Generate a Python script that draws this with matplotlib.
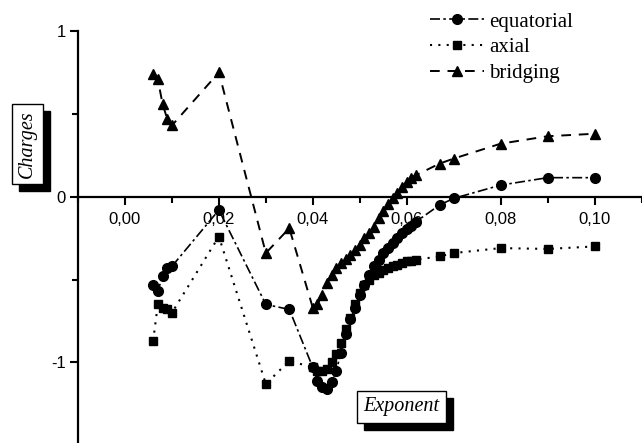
import matplotlib
matplotlib.use("Agg")
import matplotlib.pyplot as plt
from matplotlib.ticker import FixedLocator, FuncFormatter
from matplotlib.patches import Rectangle

# ---------------- data ----------------
eq_x = [0.006, 0.007, 0.008, 0.009, 0.010, 0.020, 0.030, 0.035,
        0.040, 0.041, 0.042, 0.043, 0.044, 0.045, 0.046, 0.047, 0.048, 0.049,
        0.050, 0.051, 0.052, 0.053, 0.054, 0.055, 0.056, 0.057, 0.058, 0.059,
        0.060, 0.061, 0.062, 0.067, 0.070, 0.080, 0.090, 0.100]
eq_y = [-0.53, -0.57, -0.48, -0.43, -0.42, -0.08, -0.65, -0.68,
        -1.03, -1.11, -1.15, -1.16, -1.12, -1.05, -0.94, -0.83, -0.74, -0.67,
        -0.59, -0.53, -0.47, -0.42, -0.38, -0.34, -0.31, -0.28, -0.25, -0.22,
        -0.195, -0.175, -0.15, -0.05, -0.01, 0.07, 0.115, 0.115]

ax_x = [0.006, 0.007, 0.008, 0.009, 0.010, 0.020, 0.030, 0.035,
        0.040, 0.041, 0.042, 0.043, 0.044, 0.045, 0.046, 0.047, 0.048, 0.049,
        0.050, 0.051, 0.052, 0.053, 0.054, 0.055, 0.056, 0.057, 0.058, 0.059,
        0.060, 0.061, 0.062, 0.067, 0.070, 0.080, 0.090, 0.100]
ax_y = [-0.87, -0.65, -0.67, -0.68, -0.70, -0.24, -1.13, -0.99,
        -1.03, -1.05, -1.05, -1.04, -1.00, -0.95, -0.88, -0.80, -0.73, -0.65,
        -0.58, -0.53, -0.50, -0.475, -0.46, -0.445, -0.43, -0.42, -0.41, -0.40,
        -0.39, -0.385, -0.38, -0.36, -0.34, -0.31, -0.315, -0.30]

br_x = [0.006, 0.007, 0.008, 0.009, 0.010, 0.020, 0.030, 0.035,
        0.040, 0.041, 0.042, 0.043, 0.044, 0.045, 0.046, 0.047, 0.048, 0.049,
        0.050, 0.051, 0.052, 0.053, 0.054, 0.055, 0.056, 0.057, 0.058, 0.059,
        0.060, 0.061, 0.062, 0.067, 0.070, 0.080, 0.090, 0.100]
br_y = [0.74, 0.71, 0.56, 0.47, 0.43, 0.75, -0.34, -0.19,
        -0.67, -0.65, -0.59, -0.52, -0.47, -0.43, -0.40, -0.375, -0.35, -0.32,
        -0.29, -0.25, -0.22, -0.18, -0.13, -0.085, -0.045, -0.01, 0.025, 0.06,
        0.09, 0.115, 0.13, 0.20, 0.23, 0.32, 0.365, 0.38]

series_labels = ["equatorial", "axial", "bridging"]
x_major = [0.00, 0.02, 0.04, 0.06, 0.08, 0.10]
x_minor = [-0.01, 0.01, 0.03, 0.05, 0.07, 0.09, 0.11]
y_major = [-1, 0, 1]
y_minor = [-0.5, 0.5]
x_label = "Exponent"
y_label = "Charges"

# ---------------- figure ----------------
W, H = 642, 443
fig = plt.figure(figsize=(W / 100, H / 100), dpi=100)
left = 78 / W
top = 1 - 31 / H
ax = fig.add_axes([left, 0.0, 1 - left - 0.5 / W, top])
ax.set_xlim(-0.01, 0.11)
ax.set_ylim(-1.486, 1.0)

ax.plot(eq_x, eq_y, color="black", linestyle=(0, (6, 2, 1.5, 2)), linewidth=1.2,
        marker="o", markersize=7, label=series_labels[0])
ax.plot(ax_x, ax_y, color="black", linestyle=(0, (1, 3)), linewidth=1.5,
        marker="s", markersize=6, label=series_labels[1])
ax.plot(br_x, br_y, color="black", linestyle=(0, (5, 4)), linewidth=1.4,
        marker="^", markersize=7.5, label=series_labels[2])

# spines
for s in ["top", "right"]:
    ax.spines[s].set_visible(False)
ax.spines["left"].set_position(("data", -0.01))
ax.spines["bottom"].set_position(("data", 0.0))
for s in ["left", "bottom"]:
    ax.spines[s].set_linewidth(1.6)

ax.xaxis.set_major_locator(FixedLocator(x_major))
ax.xaxis.set_minor_locator(FixedLocator(x_minor))
ax.yaxis.set_major_locator(FixedLocator(y_major))
ax.yaxis.set_minor_locator(FixedLocator(y_minor))
ax.xaxis.set_major_formatter(FuncFormatter(lambda v, p: f"{v:.2f}".replace(".", ",")))
ax.yaxis.set_major_formatter(FuncFormatter(lambda v, p: f"{int(round(v))}"))

ax.tick_params(axis="both", which="major", direction="out", length=6, width=1.5,
               labelsize=12, colors="black")
ax.tick_params(axis="both", which="minor", direction="out", length=4, width=1.5)
ax.tick_params(axis="x", which="major", pad=5)
ax.tick_params(axis="y", which="major", pad=3)
for lab in ax.get_xticklabels() + ax.get_yticklabels():
    lab.set_family(["Liberation Sans", "DejaVu Sans"])
ax.patch.set_alpha(0)

# legend
leg = fig.legend(loc="upper left", bbox_to_anchor=(430 / W, 1 - 12 / H),
                 frameon=False, prop={"family": "Liberation Serif", "size": 15},
                 handlelength=2.6, handletextpad=0.25, labelspacing=0.3,
                 borderpad=0, borderaxespad=0)

# boxed axis labels with drop shadow
boxed = []
def boxed_label(xpx, ypx, text, rotation):
    t = fig.text(xpx / W, 1 - ypx / H, text, ha="center", va="center", rotation=rotation,
                 family="Liberation Serif", style="italic", fontsize=14.5, color="black",
                 zorder=5,
                 bbox=dict(boxstyle="square,pad=0.3", facecolor="white", edgecolor="black",
                           linewidth=1))
    boxed.append(t)

boxed_label(27.5, 144, y_label, 90)
boxed_label(401.5, 407, x_label, 0)

fig.canvas.draw()
renderer = fig.canvas.get_renderer()
for t in boxed:
    bb = t.get_bbox_patch().get_window_extent(renderer)
    off = 7
    fig.patches.append(Rectangle((bb.x0 + off, bb.y0 - off), bb.width, bb.height,
                                 transform=None, facecolor="black", edgecolor="black",
                                 zorder=1, figure=fig))

fig.savefig("out.png", dpi=100)
